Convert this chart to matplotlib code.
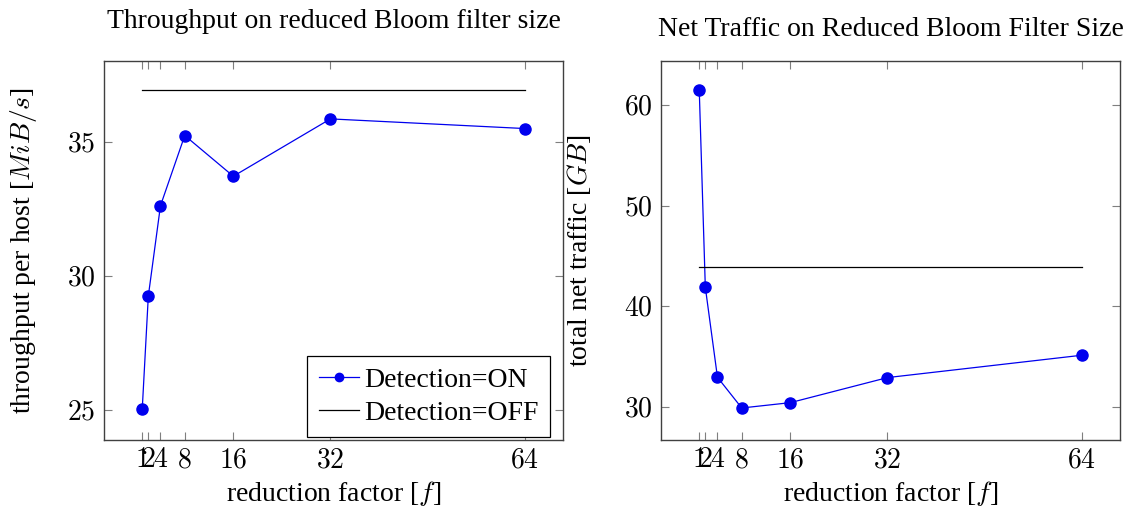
import matplotlib
matplotlib.use("Agg")
import matplotlib.pyplot as plt

plt.rcParams['font.family'] = ['Liberation Serif', 'DejaVu Serif']
plt.rcParams['mathtext.fontset'] = 'cm'

factors = [1, 2, 4, 8, 16, 32, 64]
throughput_on = [25.04, 29.25, 32.62, 35.24, 33.72, 35.86, 35.50]
throughput_off = 36.93
traffic_on = [61.49, 41.89, 32.95, 29.90, 30.43, 32.92, 35.14]
traffic_off = 43.88

throughput_yticks = [25, 30, 35]
traffic_yticks = [30, 40, 50, 60]

FS = 20
BLUE = '#0000ee'
GRAY = '#7f7f7f'

fig = plt.figure(figsize=(11.35, 5.14), dpi=100)
ax1 = fig.add_axes([104/1135, 1-440/514, 459/1135, 379/514])
ax2 = fig.add_axes([661/1135, 1-440/514, 459/1135, 379/514])


def style(ax, yticks):
    ax.set_xticks(factors)
    ax.set_xticklabels([f'${v}$' for v in factors], fontsize=FS)
    ax.set_yticks(yticks)
    ax.set_yticklabels([f'${v}$' for v in yticks], fontsize=FS)
    ax.tick_params(direction='in', length=6, width=0.8, color=GRAY,
                   top=True, right=True, pad=6)
    for s in ax.spines.values():
        s.set_color('#404040')
        s.set_linewidth(1.0)
    ax.set_xlim(-5.3, 70.3)


# Left plot
ax1.plot(factors, throughput_on, color=BLUE, lw=0.9, marker='o', ms=8,
         label='Detection=ON')
ax1.plot([factors[0], factors[-1]], [throughput_off, throughput_off],
         color='black', lw=0.9, label='Detection=OFF')
style(ax1, throughput_yticks)
ax1.set_ylim(23.88, 38.02)
ax1.set_title('Throughput on reduced Bloom filter size', fontsize=FS, pad=24)
ax1.set_xlabel(r'reduction factor [$f$]', fontsize=FS, labelpad=4)
ax1.set_ylabel(r'throughput per host [$MiB/s$]', fontsize=FS, labelpad=20)
leg = ax1.legend(loc='lower right', bbox_to_anchor=(0.9717, 0.008),
                 fontsize=FS, frameon=True, fancybox=False,
                 framealpha=1, edgecolor='black', borderpad=0.4,
                 handlelength=1.45, handletextpad=0.2, labelspacing=0.28,
                 borderaxespad=0, markerscale=0.75)
leg.get_frame().set_linewidth(0.9)

# Right plot
ax2.plot(factors, traffic_on, color=BLUE, lw=0.9, marker='o', ms=8)
ax2.plot([factors[0], factors[-1]], [traffic_off, traffic_off],
         color='black', lw=0.9)
style(ax2, traffic_yticks)
ax2.set_ylim(26.72, 64.37)
ax2.set_title('Net Traffic on Reduced Bloom Filter Size', fontsize=FS, pad=18)
ax2.set_xlabel(r'reduction factor [$f$]', fontsize=FS, labelpad=4)
ax2.set_ylabel(r'total net traffic [$GB$]', fontsize=FS, labelpad=22)

fig.savefig('out.png', dpi=100)
